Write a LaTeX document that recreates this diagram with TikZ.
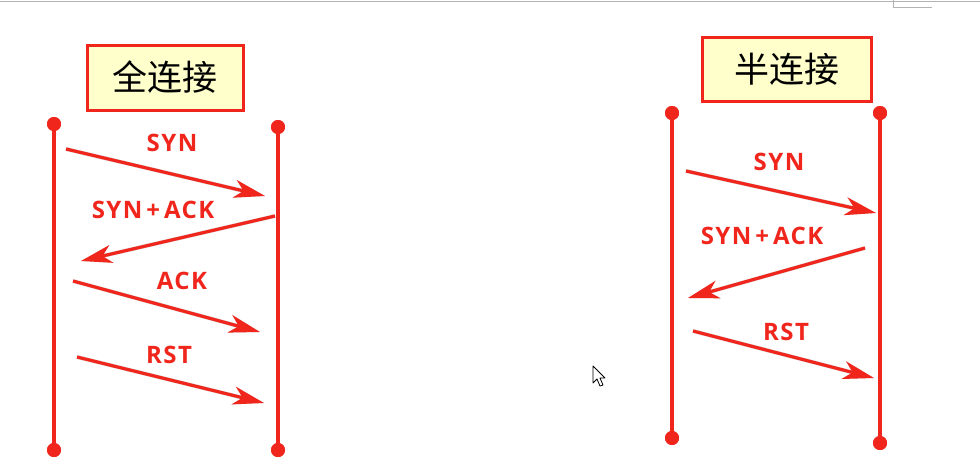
\documentclass[tikz,border=0pt]{standalone}
\usepackage{fontspec}
\setmainfont{Open Sans}
\newfontfamily\lblfont[LetterSpace=6]{Open Sans}
\newfontfamily\cjk{Noto Sans CJK SC}
\usetikzlibrary{arrows.meta}
\definecolor{lred}{RGB}{240,38,28}
\definecolor{boxfill}{RGB}{255,255,204}
\tikzset{
  life/.style={draw=lred,line width=4pt},
  msg/.style={draw=lred,line width=3.2pt,-{Stealth[length=31pt,width=18pt,inset=9pt]}},
  shd/.style={draw=black!40,opacity=0.35,line width=4pt,xshift=3pt,yshift=-3pt},
  shdmsg/.style={shd,-{Stealth[length=31pt,width=18pt,inset=9pt]}},
  dot/.style={circle,fill=lred,inner sep=0pt,minimum size=14pt},
  lbl/.style={text=lred,font=\lblfont\bfseries\fontsize{24}{26}\selectfont,inner sep=0pt},
  titlebox/.style={draw=lred,line width=3pt,fill=boxfill,inner sep=0pt,
    font=\cjk\fontsize{35}{38}\selectfont}
}
\begin{document}
\begin{tikzpicture}[x=1pt,y=-1pt]
\useasboundingbox[fill=white] (0,0) rectangle (980,474);
% top window edge
\draw[black!30,line width=1pt] (0,1) -- (980,1);
\draw[black!30,line width=1pt] (893,0) -- (893,7) -- (932,7);

% ---------- left diagram ----------
\node[titlebox,minimum width=156pt,minimum height=65pt] (t1) at (165,77.5) {全连接};
\node[dot] (a1) at (54,124) {};
\node[dot] (a2) at (54,450) {};
\node[dot] (b1) at (278,127) {};
\node[dot] (b2) at (278,450) {};
\coordinate (s1) at (66,149);   \coordinate (e1) at (265,196);
\coordinate (s2) at (275,216);  \coordinate (e2) at (81,261);
\coordinate (s3) at (73,281);   \coordinate (e3) at (260,332);
\coordinate (s4) at (77,357);   \coordinate (e4) at (264,403);
% shadows
\draw[shd] (a1.center) -- (a2.center);
\draw[shd] (b1.center) -- (b2.center);
\draw[shdmsg] (s1) -- (e1);
\draw[shdmsg] (s2) -- (e2);
\draw[shdmsg] (s3) -- (e3);
\draw[shdmsg] (s4) -- (e4);
% lines
\draw[life] (a1.center) -- (a2.center);
\draw[life] (b1.center) -- (b2.center);
\node[dot] at (a1) {};\node[dot] at (a2) {};\node[dot] at (b1) {};\node[dot] at (b2) {};
\draw[msg] (s1) -- (e1);
\draw[msg] (s2) -- (e2);
\draw[msg] (s3) -- (e3);
\draw[msg] (s4) -- (e4);
\node[lbl] (l1) at (172,143) {SYN};
\node[lbl] (l2) at (153,210) {SYN\,+\,ACK};
\node[lbl] (l3) at (182,281) {ACK};
\node[lbl] (l4) at (169,355) {RST};

% ---------- right diagram ----------
\node[titlebox,minimum width=169pt,minimum height=64pt] (t2) at (786.5,69) {半连接};
\node[dot] (c1) at (672,113) {};
\node[dot] (c2) at (672,438) {};
\node[dot] (d1) at (880,113) {};
\node[dot] (d2) at (880,443) {};
\coordinate (u1) at (686,171);  \coordinate (v1) at (876,213);
\coordinate (u2) at (865,248);  \coordinate (v2) at (688,298);
\coordinate (u3) at (693,331);  \coordinate (v3) at (874,378);
\draw[shd] (c1.center) -- (c2.center);
\draw[shd] (d1.center) -- (d2.center);
\draw[shdmsg] (u1) -- (v1);
\draw[shdmsg] (u2) -- (v2);
\draw[shdmsg] (u3) -- (v3);
\draw[life] (c1.center) -- (c2.center);
\draw[life] (d1.center) -- (d2.center);
\node[dot] at (c1) {};\node[dot] at (c2) {};\node[dot] at (d1) {};\node[dot] at (d2) {};
\draw[msg] (u1) -- (v1);
\draw[msg] (u2) -- (v2);
\draw[msg] (u3) -- (v3);
\node[lbl] (m1) at (779,162) {SYN};
\node[lbl] (m2) at (762,236) {SYN\,+\,ACK};
\node[lbl] (m3) at (786,332) {RST};

% mouse cursor
\draw[black,fill=white,line width=0.8pt,line join=round]
  (593,366) -- (593,383) -- (597,379) -- (600,386) -- (603,385) -- (600,378) -- (605,378) -- cycle;
\end{tikzpicture}
\end{document}
